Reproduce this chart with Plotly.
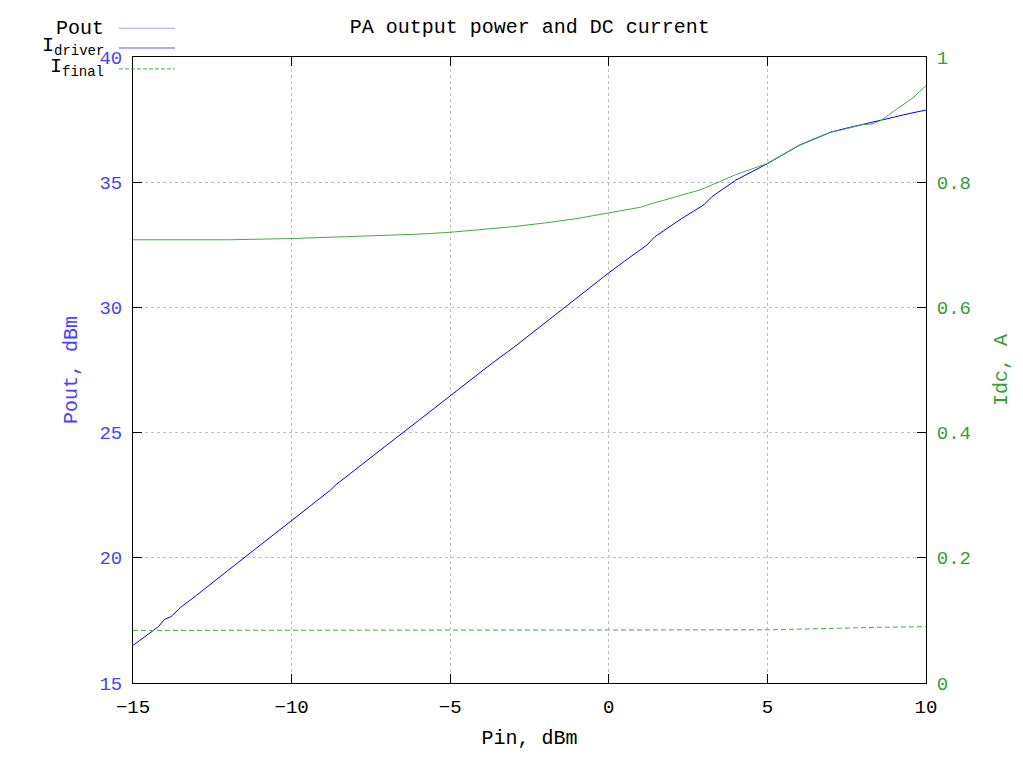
import plotly.graph_objects as go

# ---- data ----
pin_pout = [-15, -14.5, -14.2, -14.0, -13.8, -13.5, -13, -12, -11, -10, -9, -8.8, -8.6, -8, -7, -6,
            -5, -4, -3.7, -3, -2, -1, 0, 0.5, 1.2, 1.45, 2, 2.3, 3.0, 3.25, 4.0, 5.0, 6.0, 6.5,
            7.0, 7.5, 8.0, 8.5, 9.0, 9.5, 10]
pout = [16.50, 16.95, 17.25, 17.55, 17.65, 18.02, 18.5, 19.5, 20.5, 21.48, 22.47, 22.68, 22.92,
        23.5, 24.5, 25.48, 26.47, 27.45, 27.75, 28.4, 29.4, 30.4, 31.38, 31.85, 32.49, 32.82,
        33.3, 33.55, 34.1, 34.42, 35.08, 35.74, 36.47, 36.75, 37.0, 37.16, 37.30, 37.45, 37.60,
        37.75, 37.88]

pin_idrv = [-15, -12, -10, -8, -6, -5, -4, -3, -2, -1, 0, 1, 1.3, 2, 2.9, 3.5, 4, 5, 6, 6.5,
            7, 7.3, 8, 8.3, 8.6, 9.0, 9.2, 9.6, 9.8, 10]
i_driver = [0.708, 0.708, 0.710, 0.713, 0.717, 0.720, 0.724, 0.729, 0.735, 0.742, 0.751, 0.760,
            0.765, 0.775, 0.788, 0.801, 0.812, 0.830, 0.859, 0.870, 0.880, 0.883, 0.892, 0.893,
            0.899, 0.914, 0.921, 0.935, 0.945, 0.954]

pin_ifin = [-15, -10, -5, 0, 3.5, 5, 6, 7.3, 8.5, 10]
i_final = [0.084, 0.084, 0.084, 0.084, 0.084, 0.085, 0.086, 0.088, 0.089, 0.090]

x_ticks = [-15, -10, -5, 0, 5, 10]
y_ticks = [15, 20, 25, 30, 35, 40]
y2_ticks = [0, 0.2, 0.4, 0.6, 0.8, 1]
y2_labels = ["0", "0.2", "0.4", "0.6", "0.8", "1"]

FONT = "Liberation Mono, DejaVu Sans Mono, monospace"
BLUE = "#0000ff"
BLUE_TXT = "#4444ff"
GREEN = "#4aa84a"
GREEN_TXT = "#33a033"

fig = go.Figure()
fig.add_trace(go.Scatter(x=pin_pout, y=pout, mode="lines", name="Pout",
                         line=dict(color=BLUE, width=1), showlegend=False))
fig.add_trace(go.Scatter(x=pin_idrv, y=i_driver, mode="lines", name="I<sub>driver</sub>",
                         line=dict(color=GREEN, width=1), yaxis="y2", showlegend=False))
fig.add_trace(go.Scatter(x=pin_ifin, y=i_final, mode="lines", name="I<sub>final</sub>",
                         line=dict(color=GREEN, width=1, dash="5px,3px"), yaxis="y2",
                         showlegend=False))

grid = dict(showgrid=True, gridcolor="#c0c0c0", griddash="dot", gridwidth=1)

fig.update_layout(
    width=1023, height=767,
    margin=dict(l=125, r=105, t=49, b=92),
    paper_bgcolor="white", plot_bgcolor="white",
    font=dict(family=FONT, size=19, color="#000000"),
    title=dict(text="PA output power and DC current", x=0.51, xanchor="center",
               y=0.976, yanchor="middle", font=dict(family=FONT, size=20, color="#000000")),
    xaxis=dict(range=[-15, 10], tickvals=x_ticks, ticks="inside", ticklen=9, tickcolor="#000000",
               showline=True, linecolor="#000000", linewidth=1, mirror="ticks",
               zeroline=False, ticklabelstandoff=6,
               title=dict(text="Pin, dBm", standoff=12, font=dict(family=FONT, size=20)),
               tickfont=dict(family=FONT, size=19, color="#000000"), **grid),
    yaxis=dict(range=[15, 40], tickvals=y_ticks, ticks="inside", ticklen=9, tickcolor="#000000",
               showline=True, linecolor="#000000", linewidth=1, zeroline=False,
               ticklabelstandoff=6,
               title=dict(text="Pout, dBm", standoff=16, font=dict(family=FONT, size=20, color=BLUE_TXT)),
               tickfont=dict(family=FONT, size=19, color=BLUE_TXT), **grid),
    yaxis2=dict(range=[0, 1], tickvals=y2_ticks, ticktext=y2_labels, overlaying="y", side="right",
                ticks="inside", ticklen=9, tickcolor="#000000", showline=True,
                linecolor="#000000", linewidth=1, showgrid=False, zeroline=False,
                ticklabelstandoff=6,
                title=dict(text="Idc, A", standoff=22, font=dict(family=FONT, size=20, color=GREEN_TXT)),
                tickfont=dict(family=FONT, size=19, color=GREEN_TXT)),
    showlegend=False,
)

# legend drawn gnuplot-style: text right-aligned, sample line to the right
legend_items = [("Pout", 1.046, 1.046, dict(color="#a0a0ff", width=1, dash="solid")),
                ("I<sub>driver</sub>", 1.017, 1.0144, dict(color="#5a5aff", width=1, dash="solid")),
                ("I<sub>final</sub>", 0.984, 0.981, dict(color=GREEN, width=1, dash="4px,2px"))]
for label, ty, ly, ln in legend_items:
    fig.add_annotation(xref="paper", yref="paper", x=-0.034, y=ty, text=label, showarrow=False,
                       xanchor="right", yanchor="middle",
                       font=dict(family=FONT, size=20, color="#000000"))
    fig.add_shape(type="line", xref="paper", yref="paper", x0=-0.0177, x1=0.053, y0=ly, y1=ly,
                  line=ln)

fig.write_html("out.html")
